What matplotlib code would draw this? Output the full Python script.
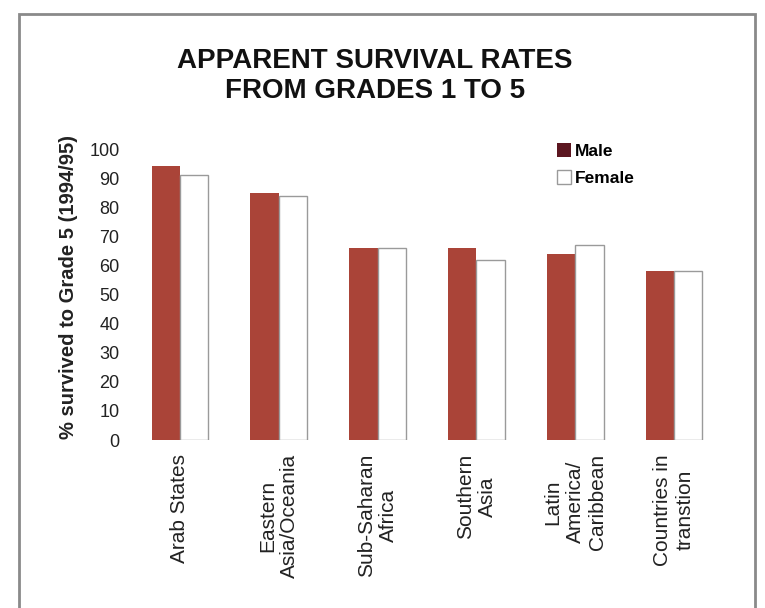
import numpy as np
import matplotlib
matplotlib.use('Agg')
import matplotlib.pyplot as plt
from matplotlib.patches import Patch, Rectangle

plt.rcParams['font.family'] = ['Liberation Sans', 'DejaVu Sans']

regions = ['Arab States', 'Eastern\nAsia/Oceania', 'Sub-Saharan\nAfrica',
           'Southern\nAsia', 'Latin\nAmerica/\nCaribbean', 'Countries in\ntranstion']
male = [94, 85, 66, 66, 64, 58]
female = [91, 84, 66, 62, 67, 58]
yticks = [0, 10, 20, 30, 40, 50, 60, 70, 80, 90, 100]

fig = plt.figure(figsize=(7.65, 6.08), dpi=100)
ax = fig.add_axes([0.1707, 0.2763, 0.7749, 0.4786])

x = np.arange(len(regions))
w = 0.288
ax.bar(x - w / 2, male, w, color='#aa4438', edgecolor='none')
ax.bar(x + w / 2, female, w, color='white', edgecolor='#9a9a9a', linewidth=1)

ax.set_xlim(-0.5, 5.5)
ax.set_ylim(0, 100)
ax.set_yticks(yticks)
ax.set_yticklabels([str(t) for t in yticks], fontsize=13, color='#222222')
ax.set_xticks(x)
ax.set_xticklabels(regions, rotation=90, ha='center', va='top', fontsize=15,
                   linespacing=1.2, multialignment='center', color='#222222')
ax.tick_params(length=0)
ax.tick_params(axis='y', pad=8)
ax.tick_params(axis='x', pad=10)
for s in ax.spines.values():
    s.set_visible(False)

ax.set_ylabel('% survived to Grade 5 (1994/95)', fontsize=14.5, fontweight='bold',
              color='#222222')
ax.yaxis.set_label_coords(-0.089, 0.526)

handles = [Patch(facecolor='#5c1620', edgecolor='none', label='Male'),
           Patch(facecolor='white', edgecolor='#9a9a9a', label='Female')]
fig.legend(handles=handles, loc='upper left', bbox_to_anchor=(0.708, 0.79),
           frameon=False, handlelength=0.8, handleheight=0.8, handletextpad=0.2,
           labelspacing=0.65, prop={'size': 12.5, 'weight': 'bold'})

fig.text(0.49, 0.899, 'APPARENT SURVIVAL RATES', ha='center', va='center',
         fontsize=20, fontweight='bold', color='#111111')
fig.text(0.49, 0.850, 'FROM GRADES 1 TO 5', ha='center', va='center',
         fontsize=20, fontweight='bold', color='#111111')

fig.patches.append(Rectangle((19 / 765, -0.02), 736 / 765, 1 - 14 / 608 + 0.02,
                             transform=fig.transFigure, fill=False,
                             edgecolor='#8a8a8a', linewidth=2))

fig.savefig('out.png', dpi=100)
